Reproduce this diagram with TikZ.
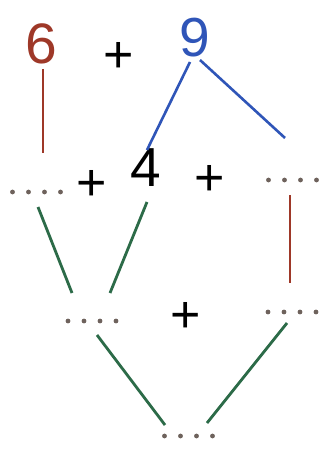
\documentclass[tikz,border=0pt]{standalone}
\usepackage{fontspec}
\setmainfont{Liberation Sans}
\usetikzlibrary{calc}
\definecolor{cred}{HTML}{9E3828}
\definecolor{cblue}{HTML}{2F55B8}
\definecolor{cgreen}{HTML}{2C6B48}
\definecolor{cdot}{HTML}{6E625C}
\begin{document}
\begin{tikzpicture}[x=1pt,y=-1pt,
  num/.style={inner sep=0pt,font=\fontsize{55}{55}\selectfont},
  plus/.style={inner sep=0pt,font=\fontsize{52}{52}\selectfont},
  blank/.style={minimum width=54pt,minimum height=6pt,inner sep=0pt,
    path picture={\foreach \i in {-24,-8,8,24}{\fill[cdot] ($(path picture bounding box.center)+(\i,0)$) circle (2.4pt);}}},
  redline/.style={draw=cred,line width=2.8pt},
  blueline/.style={draw=cblue,line width=2.6pt},
  greenline/.style={draw=cgreen,line width=2.8pt}]
\fill[white] (0,0) rectangle (321,454);
\useasboundingbox (0,0) rectangle (321,454);
% row 1
\node[num,text=cred,font=\fontsize{57}{57}\selectfont] (n6) at (41.5,44) {6};
\node[plus] (p1) at (118.5,57) {+};
\node[num,text=cblue] (n9) at (195,38) {9};
% row 2
\node[blank] (d1) at (36.5,192) {};
\node[plus] (p2) at (92,185) {+};
\node[num] (n4) at (146,168) {4};
\node[plus] (p3) at (210,180.5) {+};
\node[blank] (d2) at (292.5,180) {};
% row 3
\node[blank] (d3) at (92,321) {};
\node[plus] (p4) at (186,317) {+};
\node[blank] (d4) at (292,312) {};
% row 4
\node[blank] (d5) at (188.5,436) {};
% connectors
\draw[redline] ($(n6)+(1.5,25)$) -- ($(d1)+(6.5,-39)$);
\draw[blueline] ($(n9)+(-5,24)$) -- ($(n4)+(1,-18)$);
\draw[blueline] ($(n9)+(5,22)$) -- ($(d2)+(-7.5,-42)$);
\draw[redline] ($(d2)+(-2.5,15)$) -- ($(d4)+(-2,-29)$);
\draw[greenline] ($(d1)+(1.5,15)$) -- ($(d3)+(-20,-28)$);
\draw[greenline] ($(n4)+(1,34)$) -- ($(d3)+(18,-28)$);
\draw[greenline] ($(d3)+(5,14)$) -- ($(d5)+(-23.5,-11)$);
\draw[greenline] ($(d4)+(-5,11)$) -- ($(d5)+(18.5,-13)$);
\end{tikzpicture}
\end{document}
